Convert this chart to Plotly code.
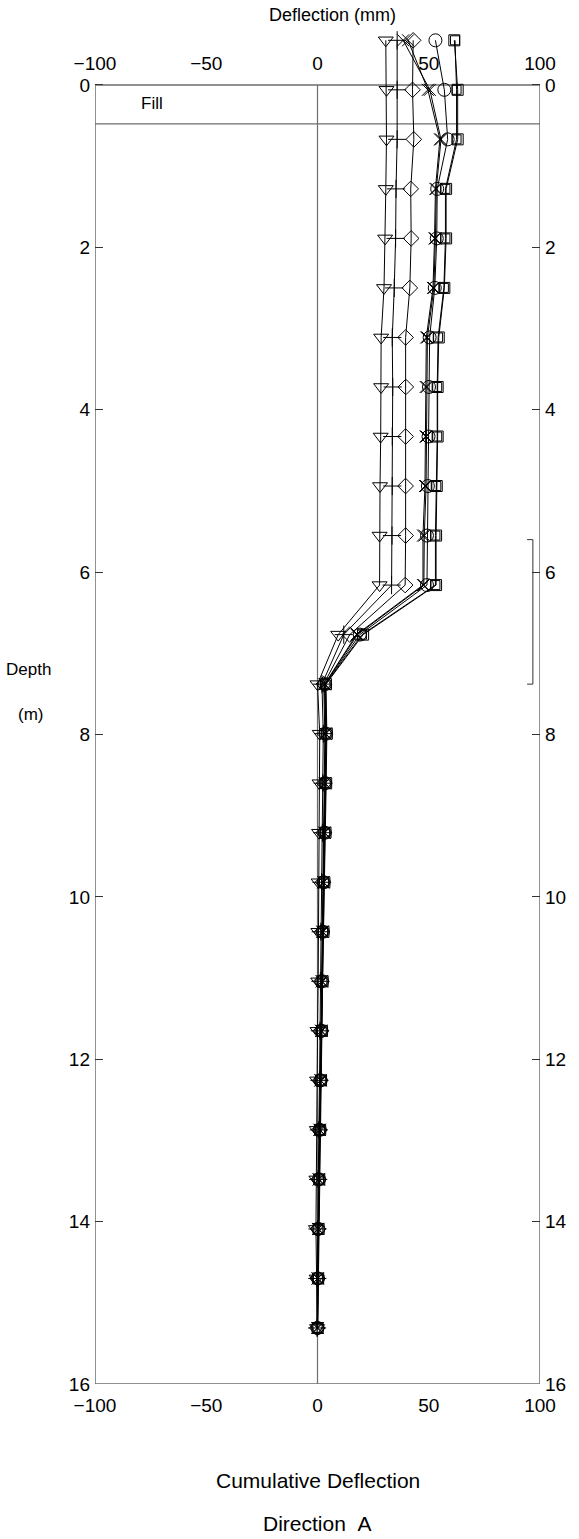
import plotly.graph_objects as go

# Inclinometer reading depths (m), one every 0.61 m from the casing top
depth = [-0.55, 0.06, 0.67, 1.28, 1.89, 2.50, 3.11, 3.72, 4.33, 4.94, 5.55, 6.16, 6.77,
         7.38, 7.99, 8.60, 9.21, 9.82, 10.43, 11.04, 11.65, 12.26, 12.87, 13.48, 14.09, 14.70, 15.31]

# Cumulative deflection (mm) for each survey
survey_1 = [30.7, 31.0, 31.0, 30.7, 30.4, 29.9, 28.6, 28.6, 28.4, 28.1, 27.9, 27.9, 9.3,
            0.0, 1.0, 0.9, 0.7, 0.5, 0.4, 0.3, 0.0, -0.2, -0.3, -0.5, -0.7, -0.4, -0.2]
survey_2 = [35.8, 35.8, 35.8, 35.3, 35.1, 34.5, 33.6, 33.8, 33.6, 33.6, 33.5, 33.3, 11.8,
            2.0, 2.6, 2.4, 2.2, 1.8, 1.5, 1.3, 1.1, 0.9, 0.6, 0.3, 0.0, -0.1, -0.2]
survey_3 = [43.0, 42.7, 43.3, 41.9, 42.1, 41.5, 39.6, 39.7, 39.6, 39.6, 39.6, 39.4, 14.5,
            2.8, 3.3, 3.0, 2.8, 2.4, 2.0, 1.7, 1.5, 1.2, 0.8, 0.5, 0.2, 0.0, -0.1]
survey_4 = [40.7, 49.6, 55.0, 53.0, 52.6, 51.9, 48.9, 48.6, 48.6, 48.3, 47.4, 47.4, 17.5,
            3.2, 3.6, 3.3, 3.1, 2.6, 2.2, 1.9, 1.7, 1.3, 0.9, 0.6, 0.3, 0.1, 0.0]
survey_5 = [38.5, 50.5, 55.5, 53.4, 53.0, 52.3, 49.4, 49.1, 49.0, 48.8, 48.0, 47.8, 18.0,
            3.3, 3.7, 3.4, 3.2, 2.7, 2.3, 2.0, 1.7, 1.4, 1.0, 0.6, 0.3, 0.1, 0.0]
survey_6 = [53.0, 57.0, 58.5, 53.8, 53.6, 52.7, 50.4, 50.1, 49.9, 49.6, 49.2, 49.2, 19.0,
            3.4, 3.8, 3.5, 3.3, 2.8, 2.4, 2.1, 1.8, 1.4, 1.0, 0.7, 0.4, 0.2, 0.0]
survey_7 = [61.5, 63.0, 63.0, 57.8, 57.8, 57.0, 54.5, 54.0, 54.0, 53.6, 53.3, 53.3, 20.5,
            3.8, 4.2, 3.9, 3.6, 3.1, 2.7, 2.3, 2.0, 1.6, 1.2, 0.8, 0.5, 0.3, 0.1]
survey_8 = [61.8, 62.5, 62.5, 57.5, 57.5, 56.8, 54.2, 53.8, 53.8, 53.4, 53.0, 53.0, 20.0,
            3.6, 4.0, 3.7, 3.4, 2.9, 2.5, 2.2, 1.9, 1.5, 1.1, 0.7, 0.4, 0.2, 0.0]

surveys = [survey_1, survey_2, survey_3, survey_4, survey_5, survey_6, survey_7, survey_8]
symbols = ["triangle-down-open", "cross-thin-open", "diamond-open", "x-thin-open",
           "x-thin-open", "circle-open", "square-open", "square-open"]
sizes = [13, 13, 12, 12, 12, 13, 11, 9]

depth_ticks = [0, 2, 4, 6, 8, 10, 12, 14, 16]
defl_ticks = [-100, -50, 0, 50, 100]

fill_depth = 0.48
zone_top, zone_bottom = 5.6, 7.38

DEPTH_MAX = 16
DEPTH_MIN = -0.8
FONT = "Liberation Sans, Arial, sans-serif"
FRAME = "#6e6e6e"

fig = go.Figure()

for vals, sym, sz in zip(surveys, symbols, sizes):
    fig.add_trace(go.Scatter(
        x=vals, y=depth, mode="lines+markers",
        line=dict(color="black", width=1),
        marker=dict(symbol=sym, size=sz, color="black",
                    line=dict(color="black", width=1)),
        showlegend=False, hoverinfo="x+y",
    ))

# carrier for the right-hand depth axis and the bottom deflection axis
fig.add_trace(go.Scatter(x=[0], y=[0], xaxis="x2", yaxis="y2", mode="markers",
                         marker=dict(opacity=0), showlegend=False, hoverinfo="skip"))

tickfont = dict(family=FONT, size=19, color="black")
common_y = dict(range=[DEPTH_MAX, DEPTH_MIN], tickvals=depth_ticks, ticks="inside",
                ticklen=8, tickwidth=1, tickcolor="#333333", showgrid=False,
                zeroline=False, showline=False, tickfont=tickfont)
common_x = dict(range=[-100, 100], tickvals=defl_ticks, ticks="", showgrid=False,
                zeroline=False, showline=False, tickfont=tickfont)

frame_top = (DEPTH_MAX - 0) / (DEPTH_MAX - DEPTH_MIN)

fig.update_layout(
    width=579, height=1539,
    margin=dict(l=95, r=34, t=20, b=155),
    paper_bgcolor="white", plot_bgcolor="white",
    font=dict(family=FONT, color="black"),
    xaxis=dict(side="top", anchor="free", position=frame_top,
               ticklabelstandoff=11, **common_x),
    xaxis2=dict(side="bottom", overlaying="x", anchor="y", matches="x",
                ticklabelstandoff=8, **common_x),
    yaxis=dict(side="left", ticklabelstandoff=4, **common_y),
    yaxis2=dict(side="right", overlaying="y", anchor="x", matches="y",
                ticklabelstandoff=4, **common_y),
    shapes=[
        dict(type="rect", xref="x", yref="y", x0=-100, x1=100, y0=0, y1=DEPTH_MAX,
             line=dict(color=FRAME, width=1.5), layer="below"),
        dict(type="line", xref="x", yref="y", x0=0, x1=0, y0=0, y1=DEPTH_MAX,
             line=dict(color=FRAME, width=1.2), layer="below"),
        dict(type="line", xref="x", yref="y", x0=-100, x1=100, y0=fill_depth, y1=fill_depth,
             line=dict(color=FRAME, width=1.2), layer="below"),
        dict(type="path", xref="x", yref="y",
             path=f"M 94.2 {zone_top} L 96.8 {zone_top} L 96.8 {zone_bottom} L 94.2 {zone_bottom}",
             line=dict(color="#333333", width=1), layer="below"),
    ],
    annotations=[
        dict(text="Deflection (mm)", xref="x", yref="paper", x=6.7, y=1.0037,
             showarrow=False, font=dict(size=18), xanchor="center", yanchor="middle"),
        dict(text="Fill", xref="x", yref="y", x=-74.5, y=0.23, showarrow=False,
             font=dict(size=17), xanchor="center", yanchor="middle"),
        dict(text="Depth", xref="paper", yref="y", x=-0.149, y=7.2, showarrow=False,
             font=dict(size=17), xanchor="center", yanchor="middle"),
        dict(text="(m)", xref="paper", yref="y", x=-0.145, y=7.75, showarrow=False,
             font=dict(size=17), xanchor="center", yanchor="middle"),
        dict(text="Cumulative Deflection", xref="x", yref="paper", x=0, y=-0.0704,
             showarrow=False, font=dict(size=21), xanchor="center", yanchor="middle"),
        dict(text="Direction\u00a0\u00a0A", xref="x", yref="paper", x=0, y=-0.1026,
             showarrow=False, font=dict(size=21), xanchor="center", yanchor="middle"),
    ],
)

fig.write_html("out.html")
